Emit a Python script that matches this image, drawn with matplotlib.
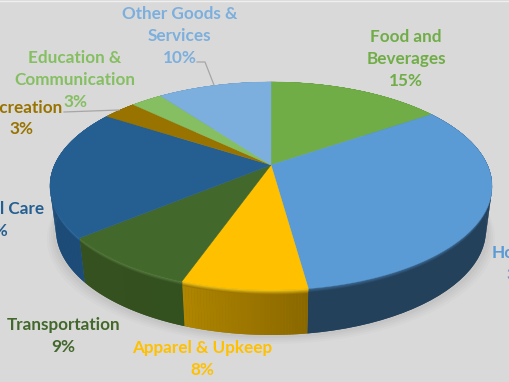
import matplotlib
matplotlib.use('Agg')
import matplotlib.pyplot as plt
import numpy as np

categories = ['Food and\nBeverages', 'Housing', 'Apparel & Upkeep', 'Transportation',
              'Personal Care', 'Recreation', 'Education &\nCommunication', 'Other Goods &\nServices']
values = [15.45, 32.35, 7.6, 8.6, 20.1, 3.0, 2.8, 10.1]
top_colors = ['#70AD47', '#5B9BD5', '#FFC000', '#43682B', '#255E91', '#997300', '#85BF62', '#7CAFDD']
side_start = ['#4F7A32', '#24415B', '#8A6800', '#33501F', '#1D4C78', '#6E5300', '#5F8A45', '#5A7F9F']
side_end = ['#4F7A32', '#24415B', '#B08600', '#35511F', '#1B4A78', '#6E5300', '#5F8A45', '#5A7F9F']
rim_colors = ['#70AD47', '#3F6F9C', '#FFD21F', '#5E8547', '#3A7BB0', '#997300', '#85BF62', '#7CAFDD']
label_x = [406, 523, 202, 63.5, -9, 21.5, 75, 179.5]
label_y = [59, 264, 359, 336, 220, 118.5, 80, 36]

plt.rcParams['font.family'] = ['Lato', 'DejaVu Sans']

BG = '#D9D9D9'
CX = 271
K = 0.2019


def top_face(theta):
    # clockwise from 12 o'clock, perspective squashes the far half
    u, v = np.sin(theta), -np.cos(theta)
    w = 1 - K * v
    return CX + 216.5 * u / w, 165 + 99.8 * v / w


def bottom_face(theta):
    u, v = np.sin(theta), -np.cos(theta)
    w = 1 - K * v
    return CX + 210.6 * u / w, 208.8 + 100.7 * v / w


def mix(c1, c2, t):
    a = np.array(matplotlib.colors.to_rgb(c1))
    b = np.array(matplotlib.colors.to_rgb(c2))
    return tuple(a + (b - a) * t)


fig = plt.figure(figsize=(5.10, 3.82), dpi=100, facecolor=BG)
ax = fig.add_axes([0, 0, 1, 1])
ax.set_xlim(0, 510)
ax.set_ylim(382, 0)
ax.axis('off')
ax.axhline(0.5, color='#EFEFEF', lw=1, zorder=1)

edges = np.cumsum([0] + values) / sum(values) * 2 * np.pi
circle = np.linspace(0, 2 * np.pi, 361)

# soft shadow under the pie
bx, by = bottom_face(circle)
for off, alpha in zip([9, 7, 5, 3], [0.04, 0.05, 0.06, 0.07]):
    ax.fill(bx + off * (bx - CX) / 215, by + off, color='#808080', alpha=alpha, lw=0, zorder=1)

for i in range(len(values)):
    t = np.linspace(edges[i], edges[i + 1], 41)
    xt, yt = top_face(t)
    xb, yb = bottom_face(t)
    # solid wall first so the steps below leave no seams
    ax.fill(np.r_[xt, xb[::-1]], np.r_[yt, yb[::-1]], color=mix(side_start[i], side_end[i], 0.5), lw=0, zorder=2)
    for j in range(40):
        ax.fill(np.r_[xt[j:j + 2], xb[j:j + 2][::-1]], np.r_[yt[j:j + 2], yb[j:j + 2][::-1]],
                color=mix(side_start[i], side_end[i], j / 39), lw=0, zorder=2.5)
    # bevel where the wall meets the top
    for s in np.linspace(1, 0, 6):
        ax.fill(np.r_[xt, (xt + (xb - xt) * s * 0.1)[::-1]], np.r_[yt, (yt + (yb - yt) * s * 0.1)[::-1]],
                color=mix(rim_colors[i], mix(side_start[i], side_end[i], 0.5), s), lw=0, zorder=3)

# top face
for i in range(len(values)):
    t = np.linspace(edges[i], edges[i + 1], 80)
    x, y = top_face(t)
    ax.fill(np.r_[CX, x], np.r_[165, y], color=top_colors[i], lw=0.3, zorder=4)

for i, name in enumerate(categories):
    ax.text(label_x[i], label_y[i], f'{name}\n{values[i]:.0f}%', color=top_colors[i],
            fontsize=12.3, fontweight='bold', ha='center', va='center', linespacing=1.45, zorder=6)

# leader lines
ax.plot([197, 205, 214], [62, 62, 85], color='#A6A6A6', lw=0.9, zorder=5)
ax.plot([64, 119], [112, 110], color='#A6A6A6', lw=0.9, zorder=5)

fig.savefig('out.png', dpi=100, facecolor=BG)
